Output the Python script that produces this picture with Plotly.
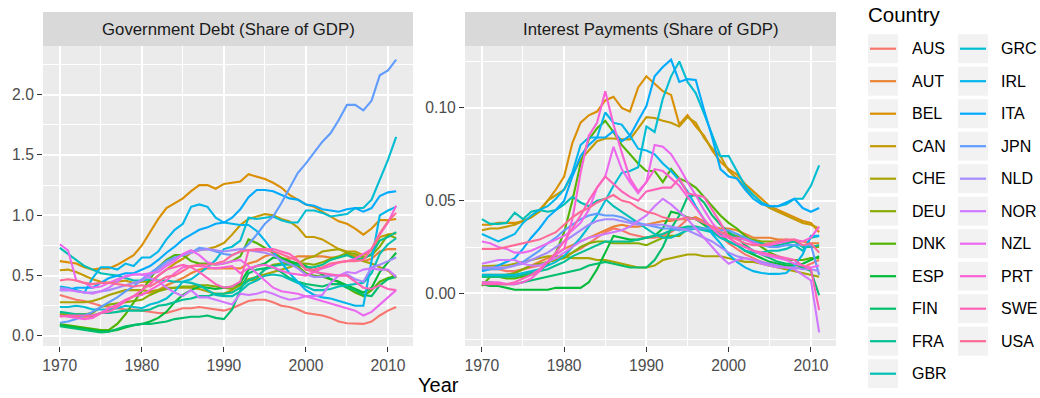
import math
import plotly.graph_objects as go

YEARS = list(range(1970, 2012))

COUNTRIES = ["AUS", "AUT", "BEL", "CAN", "CHE", "DEU", "DNK", "ESP", "FIN", "FRA", "GBR",
             "GRC", "IRL", "ITA", "JPN", "NLD", "NOR", "NZL", "PRT", "SWE", "USA"]

# ---- Government debt, share of GDP, 1970-2011 ----
AUS_DEBT = [0.34, 0.32, 0.30, 0.29, 0.27, 0.25, 0.24, 0.23, 0.22, 0.22,
            0.21, 0.20, 0.19, 0.19, 0.21, 0.23, 0.23, 0.24, 0.23, 0.22,
            0.21, 0.23, 0.26, 0.29, 0.30, 0.30, 0.28, 0.25, 0.24, 0.22,
            0.19, 0.18, 0.17, 0.15, 0.12, 0.105, 0.10, 0.10, 0.12, 0.17,
            0.21, 0.24]
AUT_DEBT = [0.18, 0.17, 0.16, 0.16, 0.16, 0.19, 0.22, 0.25, 0.29, 0.33,
            0.35, 0.36, 0.38, 0.42, 0.45, 0.48, 0.52, 0.55, 0.56, 0.56,
            0.56, 0.56, 0.56, 0.60, 0.62, 0.66, 0.68, 0.64, 0.64, 0.66,
            0.66, 0.66, 0.66, 0.65, 0.65, 0.68, 0.66, 0.62, 0.64, 0.70,
            0.72, 0.72]
BEL_DEBT = [0.62, 0.61, 0.60, 0.57, 0.55, 0.56, 0.56, 0.59, 0.63, 0.67,
            0.75, 0.86, 0.97, 1.06, 1.10, 1.14, 1.20, 1.25, 1.25, 1.22,
            1.26, 1.27, 1.28, 1.34, 1.32, 1.30, 1.27, 1.23, 1.17, 1.13,
            1.09, 1.07, 1.03, 0.99, 0.95, 0.93, 0.89, 0.84, 0.89, 0.96,
            0.96, 0.97]
CAN_DEBT = [0.545, 0.55, 0.53, 0.50, 0.47, 0.45, 0.44, 0.45, 0.46, 0.44,
            0.45, 0.45, 0.50, 0.55, 0.60, 0.64, 0.69, 0.71, 0.72, 0.74,
            0.77, 0.84, 0.92, 0.97, 0.99, 1.01, 1.00, 0.97, 0.95, 0.90,
            0.82, 0.82, 0.80, 0.76, 0.72, 0.70, 0.70, 0.67, 0.71, 0.82,
            0.84, 0.85]
CHE_DEBT = [0.28, 0.28, 0.28, 0.28, 0.29, 0.31, 0.34, 0.36, 0.38, 0.38,
            0.38, 0.37, 0.38, 0.40, 0.40, 0.40, 0.40, 0.39, 0.37, 0.35,
            0.35, 0.38, 0.43, 0.47, 0.49, 0.51, 0.53, 0.55, 0.57, 0.60,
            0.64, 0.66, 0.70, 0.71, 0.72, 0.69, 0.65, 0.62, 0.60, 0.57,
            0.54, 0.48]
DEU_DEBT = [0.18, 0.18, 0.18, 0.18, 0.19, 0.24, 0.26, 0.27, 0.28, 0.29,
            0.30, 0.34, 0.37, 0.39, 0.40, 0.41, 0.41, 0.42, 0.42, 0.41,
            0.40, 0.39, 0.42, 0.46, 0.47, 0.56, 0.59, 0.60, 0.61, 0.60,
            0.60, 0.59, 0.61, 0.64, 0.66, 0.69, 0.68, 0.65, 0.67, 0.74,
            0.84, 0.81]
DNK_DEBT = [0.10, 0.09, 0.08, 0.07, 0.06, 0.05, 0.05, 0.10, 0.18, 0.28,
            0.37, 0.47, 0.57, 0.63, 0.67, 0.67, 0.62, 0.60, 0.60, 0.59,
            0.60, 0.62, 0.66, 0.80, 0.77, 0.73, 0.69, 0.65, 0.62, 0.58,
            0.52, 0.50, 0.49, 0.47, 0.45, 0.40, 0.36, 0.33, 0.38, 0.45,
            0.48, 0.50]
ESP_DEBT = [0.09, 0.08, 0.07, 0.06, 0.05, 0.04, 0.04, 0.05, 0.07, 0.09,
            0.10, 0.12, 0.15, 0.20, 0.28, 0.34, 0.38, 0.41, 0.40, 0.39,
            0.40, 0.41, 0.44, 0.55, 0.58, 0.60, 0.65, 0.64, 0.62, 0.60,
            0.58, 0.54, 0.51, 0.47, 0.45, 0.42, 0.39, 0.36, 0.40, 0.53,
            0.61, 0.69]
FIN_DEBT = [0.08, 0.07, 0.06, 0.05, 0.04, 0.03, 0.035, 0.06, 0.08, 0.09,
            0.10, 0.10, 0.11, 0.12, 0.14, 0.15, 0.16, 0.16, 0.17, 0.15,
            0.14, 0.22, 0.38, 0.52, 0.55, 0.56, 0.57, 0.53, 0.48, 0.45,
            0.43, 0.42, 0.41, 0.43, 0.43, 0.40, 0.38, 0.34, 0.33, 0.42,
            0.47, 0.49]
FRA_DEBT = [0.20, 0.19, 0.18, 0.18, 0.17, 0.19, 0.19, 0.20, 0.21, 0.21,
            0.21, 0.22, 0.25, 0.26, 0.28, 0.30, 0.31, 0.33, 0.33, 0.35,
            0.35, 0.36, 0.40, 0.46, 0.49, 0.55, 0.58, 0.59, 0.59, 0.59,
            0.57, 0.57, 0.59, 0.63, 0.65, 0.67, 0.64, 0.64, 0.68, 0.79,
            0.82, 0.86]
GBR_DEBT = [0.73, 0.68, 0.63, 0.58, 0.55, 0.52, 0.51, 0.50, 0.48, 0.46,
            0.46, 0.47, 0.46, 0.46, 0.45, 0.45, 0.44, 0.42, 0.38, 0.34,
            0.33, 0.33, 0.37, 0.43, 0.46, 0.50, 0.51, 0.50, 0.47, 0.44,
            0.41, 0.38, 0.38, 0.39, 0.41, 0.42, 0.43, 0.44, 0.52, 0.68,
            0.76, 0.81]
GRC_DEBT = [0.24, 0.24, 0.25, 0.24, 0.22, 0.22, 0.22, 0.23, 0.25, 0.24,
            0.23, 0.26, 0.28, 0.31, 0.37, 0.45, 0.47, 0.52, 0.57, 0.63,
            0.72, 0.74, 0.79, 0.98, 0.97, 0.98, 0.99, 0.96, 0.94, 0.94,
            1.04, 1.04, 1.02, 0.99, 1.00, 1.01, 1.06, 1.06, 1.13, 1.29,
            1.46, 1.65]
IRL_DEBT = [0.41, 0.40, 0.38, 0.36, 0.48, 0.57, 0.57, 0.55, 0.60, 0.58,
            0.65, 0.65, 0.70, 0.80, 0.88, 0.93, 1.07, 1.09, 1.07, 0.98,
            0.94, 0.93, 0.92, 0.92, 0.87, 0.79, 0.70, 0.60, 0.52, 0.45,
            0.38, 0.34, 0.32, 0.31, 0.29, 0.27, 0.25, 0.25, 0.62, 1.00,
            1.04, 1.07]
ITA_DEBT = [0.38, 0.38, 0.40, 0.40, 0.40, 0.44, 0.48, 0.50, 0.52, 0.52,
            0.55, 0.58, 0.63, 0.69, 0.74, 0.80, 0.84, 0.88, 0.90, 0.93,
            0.94, 0.98, 1.05, 1.15, 1.21, 1.21, 1.20, 1.17, 1.14, 1.13,
            1.09, 1.08, 1.05, 1.04, 1.03, 1.05, 1.06, 1.03, 1.06, 1.16,
            1.19, 1.20]
JPN_DEBT = [0.11, 0.12, 0.14, 0.17, 0.20, 0.24, 0.28, 0.32, 0.37, 0.41,
            0.47, 0.52, 0.57, 0.62, 0.65, 0.67, 0.69, 0.73, 0.72, 0.70,
            0.68, 0.67, 0.70, 0.76, 0.84, 0.93, 0.99, 1.10, 1.22, 1.35,
            1.43, 1.52, 1.61, 1.68, 1.79, 1.915, 1.915, 1.87, 1.95, 2.16,
            2.20, 2.29]
NLD_DEBT = [0.40, 0.39, 0.37, 0.36, 0.36, 0.37, 0.38, 0.40, 0.42, 0.44,
            0.46, 0.50, 0.55, 0.60, 0.64, 0.67, 0.69, 0.71, 0.72, 0.71,
            0.70, 0.71, 0.72, 0.71, 0.70, 0.69, 0.67, 0.63, 0.60, 0.56,
            0.51, 0.49, 0.49, 0.50, 0.50, 0.51, 0.47, 0.45, 0.57, 0.59,
            0.62, 0.65]
NOR_DEBT = [0.38, 0.38, 0.37, 0.36, 0.35, 0.37, 0.40, 0.45, 0.50, 0.51,
            0.51, 0.48, 0.45, 0.40, 0.36, 0.33, 0.38, 0.32, 0.32, 0.30,
            0.28, 0.26, 0.35, 0.34, 0.35, 0.37, 0.35, 0.32, 0.30, 0.31,
            0.33, 0.33, 0.34, 0.44, 0.50, 0.53, 0.52, 0.55, 0.56, 0.55,
            0.55, 0.49]
NZL_DEBT = [0.76, 0.71, 0.46, 0.44, 0.40, 0.41, 0.44, 0.47, 0.49, 0.51,
            0.51, 0.52, 0.53, 0.58, 0.62, 0.68, 0.71, 0.67, 0.61, 0.59,
            0.60, 0.62, 0.63, 0.58, 0.52, 0.46, 0.40, 0.37, 0.36, 0.35,
            0.33, 0.31, 0.29, 0.27, 0.25, 0.23, 0.21, 0.17, 0.20, 0.26,
            0.32, 0.38]
PRT_DEBT = [0.17, 0.16, 0.15, 0.14, 0.15, 0.19, 0.23, 0.26, 0.30, 0.33,
            0.34, 0.38, 0.42, 0.46, 0.52, 0.57, 0.58, 0.58, 0.57, 0.56,
            0.57, 0.58, 0.52, 0.56, 0.58, 0.59, 0.57, 0.54, 0.52, 0.51,
            0.50, 0.53, 0.56, 0.58, 0.61, 0.62, 0.64, 0.68, 0.72, 0.84,
            0.94, 1.08]
SWE_DEBT = [0.16, 0.17, 0.17, 0.17, 0.17, 0.19, 0.20, 0.24, 0.29, 0.33,
            0.38, 0.43, 0.50, 0.55, 0.57, 0.59, 0.57, 0.53, 0.48, 0.43,
            0.40, 0.41, 0.45, 0.71, 0.72, 0.72, 0.72, 0.70, 0.68, 0.63,
            0.55, 0.53, 0.52, 0.51, 0.50, 0.50, 0.45, 0.40, 0.39, 0.42,
            0.39, 0.38]
USA_DEBT = [0.46, 0.47, 0.46, 0.44, 0.43, 0.44, 0.44, 0.43, 0.42, 0.41,
            0.42, 0.41, 0.45, 0.49, 0.50, 0.54, 0.58, 0.59, 0.59, 0.60,
            0.62, 0.67, 0.70, 0.71, 0.71, 0.71, 0.70, 0.68, 0.65, 0.62,
            0.55, 0.55, 0.57, 0.60, 0.61, 0.62, 0.62, 0.63, 0.72, 0.85,
            0.95, 1.02]

# ---- Interest payments, share of GDP, 1970-2011 ----
AUS_INT = [0.014, 0.013, 0.013, 0.012, 0.012, 0.013, 0.014, 0.015, 0.017, 0.019,
           0.020, 0.022, 0.024, 0.027, 0.030, 0.033, 0.035, 0.034, 0.032, 0.031,
           0.030, 0.030, 0.031, 0.033, 0.036, 0.040, 0.041, 0.039, 0.035, 0.031,
           0.027, 0.024, 0.021, 0.019, 0.017, 0.016, 0.015, 0.014, 0.014, 0.014,
           0.016, 0.018]
AUT_INT = [0.010, 0.010, 0.010, 0.010, 0.011, 0.013, 0.015, 0.017, 0.019, 0.021,
           0.024, 0.026, 0.028, 0.030, 0.032, 0.034, 0.036, 0.037, 0.036, 0.036,
           0.037, 0.038, 0.039, 0.039, 0.040, 0.040, 0.041, 0.038, 0.036, 0.035,
           0.035, 0.034, 0.032, 0.030, 0.030, 0.030, 0.029, 0.029, 0.028, 0.028,
           0.027, 0.027]
BEL_INT = [0.037, 0.037, 0.038, 0.038, 0.038, 0.039, 0.041, 0.045, 0.050, 0.056,
           0.063, 0.081, 0.092, 0.096, 0.098, 0.104, 0.106, 0.100, 0.098, 0.111,
           0.117, 0.113, 0.109, 0.107, 0.091, 0.096, 0.090, 0.085, 0.077, 0.071,
           0.067, 0.064, 0.059, 0.055, 0.051, 0.047, 0.045, 0.043, 0.041, 0.039,
           0.038, 0.033]
CAN_INT = [0.034, 0.035, 0.035, 0.036, 0.037, 0.039, 0.041, 0.044, 0.050, 0.053,
           0.056, 0.064, 0.072, 0.077, 0.082, 0.0835, 0.0835, 0.083, 0.083, 0.089,
           0.095, 0.0945, 0.093, 0.092, 0.090, 0.095, 0.092, 0.084, 0.078, 0.074,
           0.066, 0.062, 0.057, 0.053, 0.049, 0.046, 0.044, 0.042, 0.040, 0.038,
           0.037, 0.035]
CHE_INT = [0.0146, 0.015, 0.015, 0.015, 0.016, 0.017, 0.018, 0.019, 0.020, 0.020,
           0.020, 0.019, 0.019, 0.019, 0.018, 0.018, 0.017, 0.016, 0.015, 0.014,
           0.014, 0.015, 0.018, 0.019, 0.020, 0.021, 0.021, 0.020, 0.020, 0.020,
           0.019, 0.018, 0.017, 0.017, 0.016, 0.015, 0.014, 0.013, 0.012, 0.011,
           0.010, 0.009]
DEU_INT = [0.009, 0.009, 0.009, 0.010, 0.011, 0.013, 0.015, 0.016, 0.017, 0.018,
           0.019, 0.022, 0.025, 0.027, 0.028, 0.028, 0.027, 0.027, 0.027, 0.027,
           0.026, 0.028, 0.030, 0.031, 0.031, 0.035, 0.035, 0.035, 0.034, 0.033,
           0.032, 0.031, 0.030, 0.029, 0.028, 0.028, 0.028, 0.028, 0.028, 0.026,
           0.025, 0.025]
DNK_INT = [0.004, 0.009, 0.009, 0.008, 0.008, 0.009, 0.010, 0.012, 0.016, 0.022,
           0.033, 0.050, 0.070, 0.083, 0.089, 0.093, 0.087, 0.080, 0.075, 0.070,
           0.066, 0.066, 0.060, 0.067, 0.062, 0.060, 0.057, 0.052, 0.047, 0.042,
           0.038, 0.035, 0.031, 0.028, 0.025, 0.022, 0.020, 0.018, 0.018, 0.018,
           0.019, 0.019]
ESP_INT = [0.005, 0.004, 0.004, 0.003, 0.002, 0.002, 0.002, 0.002, 0.002, 0.003,
           0.003, 0.003, 0.003, 0.006, 0.013, 0.022, 0.031, 0.030, 0.029, 0.029,
           0.030, 0.031, 0.035, 0.044, 0.043, 0.041, 0.040, 0.037, 0.034, 0.031,
           0.028, 0.026, 0.023, 0.021, 0.019, 0.017, 0.016, 0.015, 0.015, 0.016,
           0.018, 0.020]
FIN_INT = [0.006, 0.006, 0.005, 0.005, 0.005, 0.006, 0.007, 0.008, 0.009, 0.010,
           0.011, 0.012, 0.013, 0.015, 0.016, 0.017, 0.016, 0.015, 0.014, 0.014,
           0.014, 0.018, 0.025, 0.035, 0.042, 0.052, 0.053, 0.049, 0.042, 0.037,
           0.033, 0.030, 0.026, 0.023, 0.021, 0.019, 0.017, 0.016, 0.016, 0.014,
           0.012, -0.001]
FRA_INT = [0.009, 0.009, 0.009, 0.009, 0.009, 0.010, 0.011, 0.012, 0.013, 0.015,
           0.017, 0.020, 0.022, 0.024, 0.026, 0.028, 0.028, 0.028, 0.028, 0.029,
           0.030, 0.031, 0.032, 0.034, 0.035, 0.036, 0.036, 0.035, 0.034, 0.032,
           0.031, 0.030, 0.029, 0.028, 0.027, 0.026, 0.026, 0.027, 0.028, 0.025,
           0.025, 0.026]
GBR_INT = [0.040, 0.0375, 0.0375, 0.038, 0.0435, 0.040, 0.044, 0.045, 0.044, 0.045,
           0.048, 0.052, 0.049, 0.047, 0.050, 0.051, 0.047, 0.044, 0.041, 0.038,
           0.035, 0.032, 0.030, 0.030, 0.032, 0.034, 0.035, 0.034, 0.033, 0.030,
           0.028, 0.026, 0.023, 0.022, 0.022, 0.023, 0.023, 0.024, 0.026, 0.023,
           0.030, 0.031]
GRC_INT = [0.010, 0.010, 0.010, 0.010, 0.010, 0.011, 0.012, 0.013, 0.015, 0.017,
           0.020, 0.025, 0.030, 0.036, 0.042, 0.050, 0.058, 0.065, 0.066, 0.068,
           0.090, 0.087, 0.105, 0.117, 0.125, 0.114, 0.108, 0.097, 0.085, 0.074,
           0.074, 0.066, 0.058, 0.053, 0.049, 0.047, 0.047, 0.048, 0.051, 0.051,
           0.058, 0.069]
IRL_INT = [0.032, 0.030, 0.028, 0.030, 0.032, 0.038, 0.042, 0.045, 0.047, 0.051,
           0.056, 0.065, 0.080, 0.084, 0.084, 0.0975, 0.092, 0.091, 0.085, 0.078,
           0.077, 0.075, 0.070, 0.066, 0.061, 0.055, 0.047, 0.040, 0.032, 0.027,
           0.021, 0.017, 0.014, 0.012, 0.011, 0.0105, 0.0105, 0.011, 0.015, 0.021,
           0.031, 0.031]
ITA_INT = [0.012, 0.013, 0.015, 0.017, 0.019, 0.024, 0.030, 0.035, 0.041, 0.045,
           0.050, 0.063, 0.074, 0.080, 0.084, 0.084, 0.0875, 0.082, 0.085, 0.093,
           0.101, 0.117, 0.122, 0.126, 0.114, 0.1155, 0.115, 0.099, 0.084, 0.067,
           0.063, 0.062, 0.056, 0.051, 0.048, 0.047, 0.047, 0.049, 0.051, 0.046,
           0.044, 0.046]
JPN_INT = [0.013, 0.013, 0.013, 0.014, 0.015, 0.017, 0.020, 0.023, 0.027, 0.030,
           0.034, 0.037, 0.040, 0.042, 0.043, 0.042, 0.042, 0.041, 0.039, 0.038,
           0.037, 0.036, 0.035, 0.035, 0.034, 0.035, 0.035, 0.035, 0.035, 0.034,
           0.034, 0.032, 0.030, 0.028, 0.026, 0.025, 0.025, 0.026, 0.026, 0.026,
           0.026, 0.010]
NLD_INT = [0.014, 0.014, 0.014, 0.014, 0.015, 0.016, 0.018, 0.020, 0.022, 0.025,
           0.028, 0.031, 0.034, 0.037, 0.039, 0.040, 0.040, 0.039, 0.038, 0.037,
           0.037, 0.037, 0.037, 0.036, 0.035, 0.034, 0.032, 0.030, 0.028, 0.025,
           0.022, 0.020, 0.019, 0.018, 0.017, 0.016, 0.015, 0.014, 0.014, 0.013,
           0.013, 0.012]
NOR_INT = [0.016, 0.017, 0.018, 0.018, 0.018, 0.016, 0.015, 0.015, 0.017, 0.019,
           0.022, 0.025, 0.028, 0.030, 0.031, 0.032, 0.033, 0.034, 0.036, 0.039,
           0.042, 0.047, 0.051, 0.048, 0.044, 0.040, 0.035, 0.030, 0.025, 0.020,
           0.016, 0.018, 0.019, 0.018, 0.016, 0.015, 0.014, 0.014, 0.013, 0.010,
           0.007, -0.021]
NZL_INT = [0.028, 0.027, 0.025, 0.024, 0.022, 0.022, 0.023, 0.025, 0.027, 0.029,
           0.031, 0.034, 0.038, 0.045, 0.057, 0.063, 0.079, 0.067, 0.060, 0.054,
           0.060, 0.080, 0.079, 0.075, 0.068, 0.060, 0.053, 0.045, 0.038, 0.033,
           0.030, 0.027, 0.025, 0.023, 0.021, 0.020, 0.019, 0.018, 0.016, 0.015,
           0.014, 0.015]
PRT_INT = [0.006, 0.006, 0.006, 0.005, 0.005, 0.006, 0.008, 0.012, 0.017, 0.021,
           0.024, 0.040, 0.065, 0.085, 0.092, 0.109, 0.091, 0.076, 0.062, 0.055,
           0.060, 0.067, 0.066, 0.062, 0.058, 0.052, 0.046, 0.040, 0.035, 0.031,
           0.030, 0.030, 0.029, 0.027, 0.026, 0.026, 0.027, 0.028, 0.029, 0.028,
           0.030, 0.036]
SWE_INT = [0.005, 0.005, 0.005, 0.005, 0.006, 0.008, 0.010, 0.013, 0.017, 0.022,
           0.028, 0.035, 0.042, 0.050, 0.057, 0.063, 0.059, 0.055, 0.052, 0.050,
           0.055, 0.056, 0.057, 0.057, 0.062, 0.054, 0.053, 0.052, 0.045, 0.038,
           0.030, 0.027, 0.025, 0.023, 0.022, 0.021, 0.020, 0.019, 0.018, 0.015,
           0.013, -0.009]
USA_INT = [0.024, 0.024, 0.024, 0.025, 0.026, 0.027, 0.028, 0.029, 0.031, 0.033,
           0.037, 0.041, 0.044, 0.046, 0.049, 0.051, 0.053, 0.050, 0.049, 0.046,
           0.044, 0.043, 0.041, 0.040, 0.040, 0.041, 0.040, 0.038, 0.036, 0.033,
           0.031, 0.029, 0.027, 0.026, 0.026, 0.027, 0.028, 0.029, 0.029, 0.026,
           0.027, 0.022]

X_TICKS = [1970, 1980, 1990, 2000, 2010]
DEBT_TICKS = [0.0, 0.5, 1.0, 1.5, 2.0]
INT_TICKS = [0.00, 0.05, 0.10]
PANEL_TITLES = ["Government Debt (Share of GDP)", "Interest Payments (Share of GDP)"]

DEBT = {c: globals()[c + "_DEBT"] for c in COUNTRIES}
INTEREST = {c: globals()[c + "_INT"] for c in COUNTRIES}


def hue_colour(h, c=100.0, l=65.0):
    """Polar-Luv (HCL) colour to sRGB hex, as used by ggplot's default hue scale."""
    xn, yn, zn = 95.047, 100.0, 108.883
    un = 4 * xn / (xn + 15 * yn + 3 * zn)
    vn = 9 * yn / (xn + 15 * yn + 3 * zn)
    u = c * math.cos(math.radians(h))
    v = c * math.sin(math.radians(h))
    y = yn * ((l + 16) / 116) ** 3
    up = u / (13 * l) + un
    vp = v / (13 * l) + vn
    x = y * 9 * up / (4 * vp)
    z = y * (12 - 3 * up - 20 * vp) / (4 * vp)
    x, y, z = x / 100, y / 100, z / 100
    rl = 3.240479 * x - 1.537150 * y - 0.498535 * z
    gl = -0.969256 * x + 1.875992 * y + 0.041556 * z
    bl = 0.055648 * x - 0.204043 * y + 1.057311 * z

    def gam(t):
        t = 12.92 * t if t <= 0.0031308 else 1.055 * t ** (1 / 2.4) - 0.055
        return int(round(min(max(t, 0), 1) * 255))

    return "#%02X%02X%02X" % (gam(rl), gam(gl), gam(bl))


n = len(COUNTRIES)
COLOURS = {cn: hue_colour(15 + 360 * i / n) for i, cn in enumerate(COUNTRIES)}

W, H = 1040, 398
FONT = "Liberation Sans, Arial, Helvetica, sans-serif"
PANEL_TOP, PANEL_BOTTOM = 46, 346
STRIP_TOP = 12
LEFT_X = (43, 413)
RIGHT_X = (465, 836)


def fx(px):
    return px / W


def fy(py):
    return 1 - py / H


def expanded(values, mult=0.05):
    lo, hi = min(values), max(values)
    pad = (hi - lo) * mult
    return [lo - pad, hi + pad]


fig = go.Figure()

for cn in COUNTRIES:
    fig.add_trace(go.Scatter(x=YEARS, y=DEBT[cn], mode="lines", name=cn,
                             line=dict(color=COLOURS[cn], width=2.1),
                             xaxis="x", yaxis="y", showlegend=False))
for cn in COUNTRIES:
    fig.add_trace(go.Scatter(x=YEARS, y=INTEREST[cn], mode="lines", name=cn,
                             line=dict(color=COLOURS[cn], width=2.1),
                             xaxis="x2", yaxis="y2", showlegend=False))

x_range = expanded(YEARS)
debt_range = expanded([v for cn in COUNTRIES for v in DEBT[cn]])
int_range = expanded([v for cn in COUNTRIES for v in INTEREST[cn]])

tickfont = dict(family=FONT, size=15.7, color="#4D4D4D")
common = dict(showgrid=True, gridcolor="white", gridwidth=2, zeroline=False,
              showline=False, ticks="outside", ticklen=5, tickwidth=1.2,
              tickcolor="#333333", tickfont=tickfont)

xcommon = dict(common, range=x_range, tickvals=X_TICKS,
               minor=dict(dtick=5, tick0=1965, showgrid=True, gridcolor="white",
                          gridwidth=1, ticks=""))

fig.update_layout(
    width=W, height=H,
    margin=dict(l=0, r=0, t=0, b=0),
    paper_bgcolor="white",
    plot_bgcolor="#EBEBEB",
    font=dict(family=FONT),
    showlegend=False,
    xaxis=dict(xcommon, domain=[fx(LEFT_X[0]), fx(LEFT_X[1])], anchor="y"),
    xaxis2=dict(xcommon, domain=[fx(RIGHT_X[0]), fx(RIGHT_X[1])], anchor="y2"),
    yaxis=dict(common, range=debt_range, tickvals=DEBT_TICKS, tickformat=".1f",
               domain=[fy(PANEL_BOTTOM), fy(PANEL_TOP)], anchor="x",
               minor=dict(dtick=0.25, tick0=0.25, showgrid=True, gridcolor="white",
                          gridwidth=1, ticks="")),
    yaxis2=dict(common, range=int_range, tickvals=INT_TICKS, tickformat=".2f",
                domain=[fy(PANEL_BOTTOM), fy(PANEL_TOP)], anchor="x2",
                minor=dict(dtick=0.025, tick0=0.025, showgrid=True, gridcolor="white",
                           gridwidth=1, ticks="")),
)

shapes = []
annotations = []

# facet strips
for (x0, x1), title in zip([LEFT_X, RIGHT_X], PANEL_TITLES):
    shapes.append(dict(type="rect", xref="paper", yref="paper",
                       x0=fx(x0), x1=fx(x1), y0=fy(PANEL_TOP), y1=fy(STRIP_TOP),
                       fillcolor="#D9D9D9", line=dict(width=0), layer="below"))
    annotations.append(dict(text=title, xref="paper", yref="paper",
                            x=fx((x0 + x1) / 2), y=fy((PANEL_TOP + STRIP_TOP) / 2),
                            xanchor="center", yanchor="middle", showarrow=False,
                            font=dict(family=FONT, size=16.8, color="#1A1A1A")))

# shared x-axis title
annotations.append(dict(text="Year", xref="paper", yref="paper",
                        x=fx(438), y=fy(385), xanchor="center", yanchor="middle",
                        showarrow=False, font=dict(family=FONT, size=20, color="black")))

# legend, two columns
annotations.append(dict(text="Country", xref="paper", yref="paper",
                        x=fx(866), y=fy(14), xanchor="left", yanchor="middle",
                        showarrow=False, font=dict(family=FONT, size=20.5, color="black")))
KEY_X = [868, 958]
LABEL_X = [910, 999]
ROWS = 11
for i, cn in enumerate(COUNTRIES):
    col, row = divmod(i, ROWS)
    yc = 48.7 + 32.5 * row
    kx = KEY_X[col]
    shapes.append(dict(type="rect", xref="paper", yref="paper",
                       x0=fx(kx), x1=fx(kx + 30), y0=fy(yc + 14.5), y1=fy(yc - 14.5),
                       fillcolor="#F2F2F2", line=dict(width=0)))
    shapes.append(dict(type="line", xref="paper", yref="paper",
                       x0=fx(kx + 2), x1=fx(kx + 28), y0=fy(yc), y1=fy(yc),
                       line=dict(color=COLOURS[cn], width=2.2)))
    annotations.append(dict(text=cn, xref="paper", yref="paper",
                            x=fx(LABEL_X[col]), y=fy(yc), xanchor="left", yanchor="middle",
                            showarrow=False, font=dict(family=FONT, size=16, color="black")))

fig.update_layout(shapes=shapes, annotations=annotations)

fig.write_html("out.html")
